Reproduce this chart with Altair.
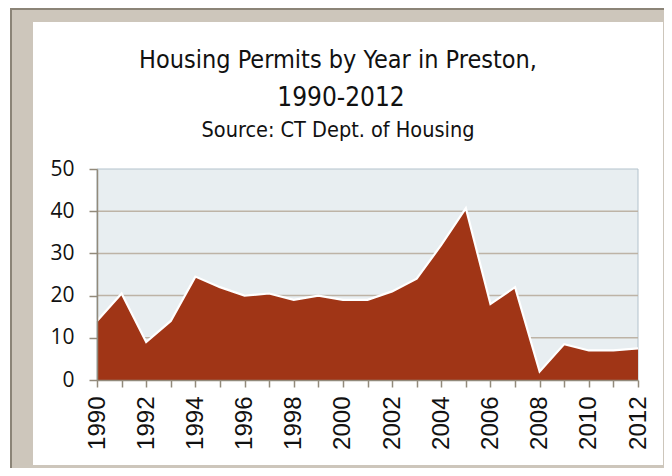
import altair as alt
import pandas as pd

years = list(range(1990, 2013))
permits = [14, 20.5, 9, 14, 24.5, 22, 20, 20.5, 19, 20, 19, 19, 21, 24, 32, 40.7,
           18, 22, 2, 8.5, 7, 7, 7.5]
grid_values = [10, 20, 30, 40]
y_ticks = [0, 10, 20, 30, 40, 50]

title_line1 = "Housing Permits by Year in Preston,"
title_line2 = "1990-2012"
subtitle_text = "Source: CT Dept. of Housing"

W, H = 541, 211
PAD = {"left": 89, "top": 161, "right": 26, "bottom": 88}
OX, OY = 97, 169  # page position of plot area origin
TX = 338          # page x of title centre

df = pd.DataFrame({"year": years, "permits": permits})
grid_df = pd.DataFrame({"permits": grid_values})
one = pd.DataFrame({"k": [0]})

axis_color = "#928a7b"
title_font = "DejaVu Sans Condensed, sans-serif"

x_enc = alt.X(
    "year:Q",
    scale=alt.Scale(domain=[1990, 2012], nice=False, zero=False),
    axis=alt.Axis(
        values=years, format="d",
        labelExpr="datum.value % 2 == 0 ? datum.label : ''",
        labelAngle=270, labelFontSize=24, labelFont="Liberation Sans",
        labelColor="#111111", tickSize=7, tickColor=axis_color, tickWidth=1.5,
        domainColor=axis_color, domainWidth=1.5, labelPadding=9,
        grid=False, title=None, zindex=1, labelFlush=False, labelOverlap=False,
        labelBound=False,
    ),
)
y_axis = alt.Axis(
    values=y_ticks, grid=False, tickSize=8, labelPadding=15, labelFontSize=21,
    labelFont="Open Sans", labelColor="#111111", title=None, zindex=1,
    domainColor=axis_color, domainWidth=1.5, tickColor=axis_color, tickWidth=1.5,
)
y_scale = alt.Scale(domain=[0, 50], nice=False)

# decorative frame pieces (pixel positions relative to plot area)
beige = alt.Chart(one).mark_rect(fill="#cdc6bb").encode(
    x=alt.value(-87), x2=alt.value(W + PAD["right"]),
    y=alt.value(-PAD["top"]), y2=alt.value(H + PAD["bottom"]))
dark_left = alt.Chart(one).mark_rect(fill="#8b8477").encode(
    x=alt.value(-87), x2=alt.value(-85),
    y=alt.value(-PAD["top"]), y2=alt.value(H + PAD["bottom"]))
dark_top = alt.Chart(one).mark_rect(fill="#8b8477").encode(
    x=alt.value(-87), x2=alt.value(W + PAD["right"]),
    y=alt.value(-PAD["top"]), y2=alt.value(-PAD["top"] + 2))
white = alt.Chart(one).mark_rect(fill="white").encode(
    x=alt.value(-64), x2=alt.value(566), y=alt.value(-147), y2=alt.value(296))
plot_bg = alt.Chart(one).mark_rect(fill="#e8eef1", stroke="#b3c2cc", strokeWidth=1).encode(
    x=alt.value(0), x2=alt.value(W), y=alt.value(0), y2=alt.value(H))

grid = alt.Chart(grid_df).mark_rule(color="#bdb3a6", strokeWidth=1.5).encode(
    y=alt.Y("permits:Q", scale=y_scale, axis=y_axis))

area = alt.Chart(df).mark_area(
    color="#a03516", opacity=1, line={"color": "white", "strokeWidth": 2.2}
).encode(x=x_enc, y=alt.Y("permits:Q", scale=y_scale, axis=y_axis))

t1 = alt.Chart(one).mark_text(
    text=title_line1, font=title_font, fontSize=25, color="#111111",
    align="center", baseline="middle"
).encode(x=alt.value(TX - OX), y=alt.value(60 - OY))
t2 = alt.Chart(one).mark_text(
    text=title_line2, font=title_font, fontSize=26, color="#111111",
    align="center", baseline="middle"
).encode(x=alt.value(TX + 3 - OX), y=alt.value(98 - OY))
t3 = alt.Chart(one).mark_text(
    text=subtitle_text, font=title_font, fontSize=21.5, color="#111111",
    align="center", baseline="middle"
).encode(x=alt.value(TX - OX), y=alt.value(131 - OY))

chart = alt.layer(beige, dark_left, dark_top, white, plot_bg, grid, area, t1, t2, t3).properties(
    width=W, height=H,
    autosize=alt.AutoSizeParams(type="none"),
    padding=PAD,
    background="white",
).configure_view(stroke=None)

chart.save("out.html", embed_options={"renderer": "svg", "actions": False})
